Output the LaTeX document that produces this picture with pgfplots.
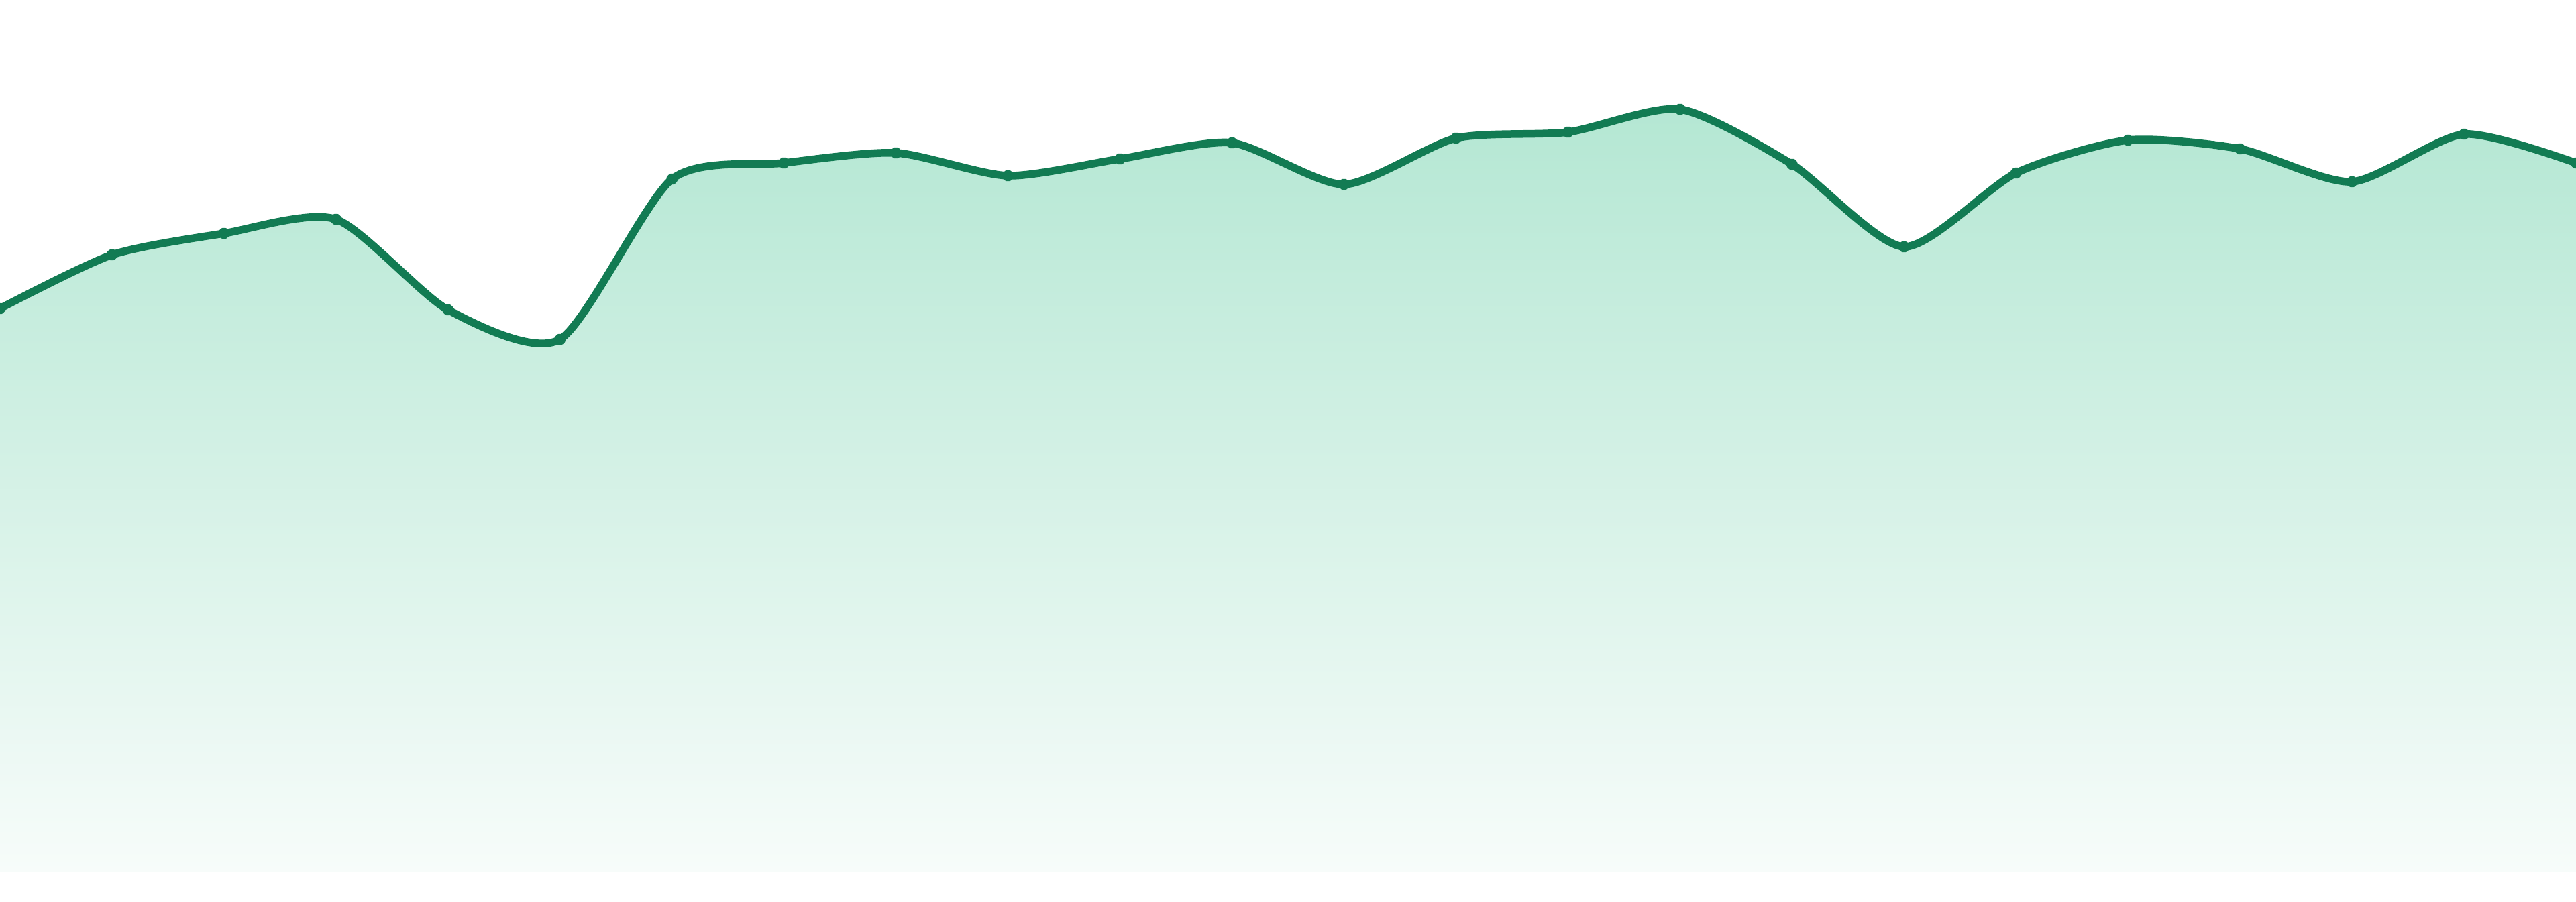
\documentclass[border=0pt]{standalone}
\usepackage{pgfplots}
\usepackage{pgfplotstable}
\pgfplotsset{compat=1.18}

\definecolor{lineGreen}{RGB}{18,123,83}
\definecolor{fillTop}{RGB}{180,231,211}
\definecolor{fillBot}{RGB}{247,252,250}

% series values, baseline of the area at 0
\pgfplotstableread{
x  v
0  84.0
1  92.0
2  95.2
3  97.3
4  83.8
5  79.4
6  103.3
7  105.7
8  107.2
9  103.8
10 106.3
11 108.7
12 102.5
13 109.4
14 110.3
15 113.7
16 105.5
17 93.2
18 104.2
19 109.1
20 107.8
21 102.9
22 110.0
23 105.7
}\series

\begin{document}
\begin{tikzpicture}
    \begin{axis}[
        scale only axis,
        width=38.4cm,
        height=13.44cm,
        axis lines=none,
        xtick=\empty, ytick=\empty,
        clip=true,
        clip marker paths=true,
        xmin=0, xmax=23,
        ymin=-4.4, ymax=130,
    ]
        \path (rel axis cs:0,0) rectangle (rel axis cs:1,1);
        \addplot[draw=none, smooth, tension=0.42,
            top color=fillTop, bottom color=fillBot]
            table[x=x, y=v] {\series} \closedcycle;
        % marks sit inside the stroke, same colour
        \addplot[lineGreen, line width=1.15mm, smooth, tension=0.42,
            line join=round, line cap=round, mark=*, mark size=0.8pt,
            mark options={fill=lineGreen, draw=none}]
            table[x=x, y=v] {\series};
    \end{axis}
\end{tikzpicture}
\end{document}
